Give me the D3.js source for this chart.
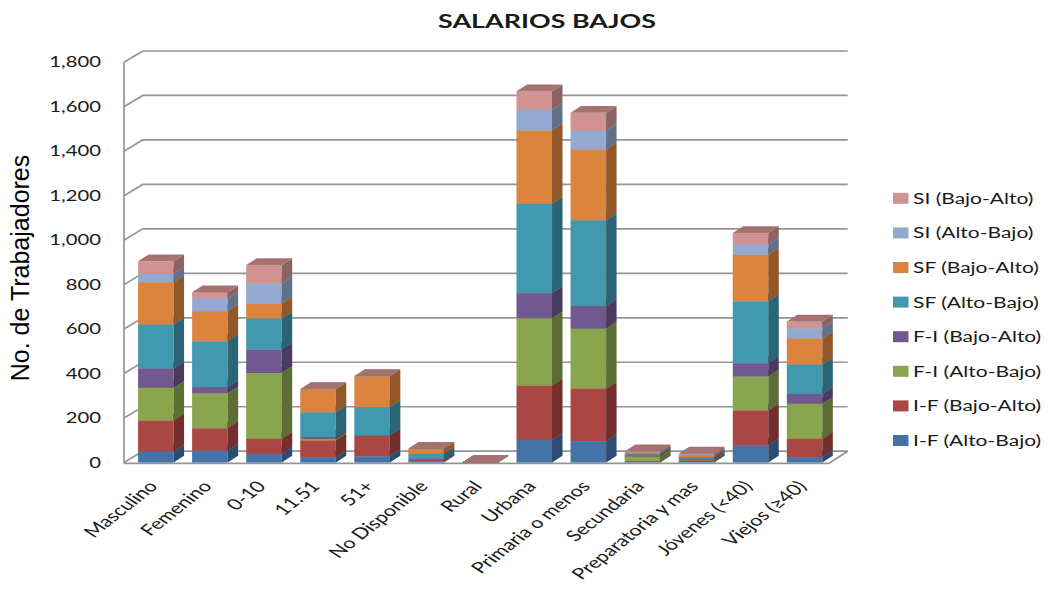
<!DOCTYPE html>
<html>
<head>
<meta charset="utf-8">
<script src="https://cdn.jsdelivr.net/npm/d3@7"></script>
<style>
  html, body { margin: 0; padding: 0; background: #ffffff; }
  svg { display: block; }
</style>
</head>
<body>
<div id="chart"></div>
<script>
// ---------------- DATA ----------------
const categories = ["Masculino", "Femenino", "0-10", "11.51", "51+", "No Disponible", "Rural",
  "Urbana", "Primaria o menos", "Secundaria", "Preparatoria y mas", "Jóvenes (<40)", "Viejos (≥40)"];

const seriesNames = ["I-F (Alto-Bajo)", "I-F (Bajo-Alto)", "F-I (Alto-Bajo)", "F-I (Bajo-Alto)",
  "SF (Alto-Bajo)", "SF (Bajo-Alto)", "SI (Alto-Bajo)", "SI (Bajo-Alto)"];

const IF_AltoBajo = [50, 54, 39, 24, 28, 6, 0, 102, 96, 2, 3, 77, 24];
const IF_BajoAlto = [139, 100, 68, 75, 93, 8, 0, 244, 236, 3, 6, 157, 83];
const FI_AltoBajo = [147, 157, 295, 8, 0, 0, 0, 303, 270, 22, 5, 153, 157];
const FI_BajoAlto = [86, 28, 107, 7, 0, 0, 0, 113, 102, 4, 3, 60, 45];
const SF_AltoBajo = [199, 206, 139, 112, 128, 25, 0, 402, 386, 6, 8, 278, 131];
const SF_BajoAlto = [190, 136, 67, 103, 139, 23, 0, 330, 318, 5, 6, 210, 119];
const SI_AltoBajo = [38, 58, 90, 0, 0, 0, 0, 93, 84, 4, 4, 46, 45];
const SI_BajoAlto = [56, 27, 83, 0, 0, 0, 0, 83, 81, 4, 5, 51, 30];

const yTicks = [0, 200, 400, 600, 800, 1000, 1200, 1400, 1600, 1800];
const yTickLabels = ["0", "200", "400", "600", "800", "1,000", "1,200", "1,400", "1,600", "1,800"];

const seriesValues = [IF_AltoBajo, IF_BajoAlto, FI_AltoBajo, FI_BajoAlto,
  SF_AltoBajo, SF_BajoAlto, SI_AltoBajo, SI_BajoAlto];

const frontColors = ["#4572A7", "#AA4643", "#89A54E", "#71588F", "#4198AF", "#DB843D", "#93A9CF", "#D19392"];
const sideColors  = ["#2E4C70", "#722F2D", "#5C6E34", "#4B3B60", "#2B6575", "#935829", "#62718A", "#8C6262"];
const topColors   = ["#3A5F8B", "#8E3B38", "#728A41", "#5E4977", "#367F92", "#B66E33", "#7A8DAD", "#A6726F"];

// ---------------- LAYOUT ----------------
const W = 1049, H = 594;
const SX = 1.4;                     // horizontal stretch of the text
const FONT = "Lato, 'Open Sans', sans-serif";
const wallLeft = 124, wallRight = 829;
const DX = 18.7, DY = -11.3;        // wall depth offset
const BDX = 10.5, BDY = -6.8;       // bar depth offset

const svg = d3.select("#chart").append("svg")
  .attr("width", W).attr("height", H)
  .style("background", "#ffffff");

const y = d3.scaleLinear().domain([0, 1800]).range([462.5, 62.3]);
const x = d3.scaleBand().domain(categories)
  .range([128.8, 831.6]).paddingInner(0.343).paddingOuter(0.1715);

// stacked data
const table = categories.map((c, i) => {
  const o = { cat: c };
  seriesNames.forEach((s, k) => { o[s] = seriesValues[k][i]; });
  return o;
});
const stack = d3.stack().keys(seriesNames)(table);

// ---------------- WALLS & GRID ----------------
const grid = svg.append("g").attr("fill", "none").attr("stroke", "#959595").attr("stroke-width", 1.7);
grid.append("line").attr("x1", wallLeft).attr("x2", wallLeft)
  .attr("y1", y(1800)).attr("y2", y(0) + 0.8);
yTicks.forEach(t => {
  const yf = y(t);
  grid.append("polyline")
    .attr("points", `${wallLeft},${yf} ${wallLeft + DX},${yf + DY} ${wallRight + DX},${yf + DY}`);
});
grid.append("polyline")
  .attr("points", `${wallLeft},${y(0) + 0.8} ${wallRight},${y(0) + 0.8} ${wallRight + DX},${y(0) + DY}`);

// ---------------- BARS ----------------
const bars = svg.append("g");
categories.forEach((c, i) => {
  const x0 = x(c), bw = x.bandwidth();
  stack.forEach((layer, k) => {
    const d = layer[i];
    const yb = y(d[0]), yt = y(d[1]);
    const g = bars.append("g");
    if (yb - yt > 0) {
      g.append("rect").attr("x", x0).attr("y", yt).attr("width", bw).attr("height", yb - yt)
        .attr("fill", frontColors[k]);
      g.append("polygon")
        .attr("points", `${x0 + bw},${yt} ${x0 + bw + BDX},${yt + BDY} ${x0 + bw + BDX},${yb + BDY} ${x0 + bw},${yb}`)
        .attr("fill", sideColors[k]);
    }
    g.append("polygon")
      .attr("points", `${x0},${yt} ${x0 + BDX},${yt + BDY} ${x0 + bw + BDX},${yt + BDY} ${x0 + bw},${yt}`)
      .attr("fill", topColors[k]);
  });
});

// ---------------- TEXT ----------------
function sText(px, py, str, anchor, size, weight, rot) {
  return svg.append("text")
    .attr("transform", `translate(${px},${py}) scale(${SX},1)` + (rot ? ` rotate(${rot})` : ""))
    .attr("text-anchor", anchor)
    .attr("font-family", FONT)
    .attr("font-size", size)
    .attr("font-weight", weight || "normal")
    .attr("fill", "#1a1a1a")
    .text(str);
}

// title
sText(547, 28, "SALARIOS BAJOS", "middle", 19.2, "bold");

// y tick labels
yTicks.forEach((t, i) => {
  sText(101, y(t) + 5, yTickLabels[i], "end", 14.5);
});

// y axis title
svg.append("text")
  .attr("transform", `translate(29,268) rotate(-90)`)
  .attr("text-anchor", "middle")
  .attr("font-family", "Arial, 'Liberation Sans', sans-serif")
  .attr("font-size", 25)
  .attr("fill", "#000")
  .text("No. de Trabajadores");

// category labels
categories.forEach(c => {
  sText(x(c) + x.bandwidth() / 2 + 3, 487, c, "end", 15.5, "normal", -48);
});

// legend
const legendRows = d3.range(seriesNames.length).reverse();
legendRows.forEach((k, r) => {
  const cy = 198.3 + r * 34.6;
  svg.append("rect").attr("x", 893).attr("y", cy - 5.5).attr("width", 15.5).attr("height", 11)
    .attr("fill", frontColors[k]);
  sText(913, cy + 5.5, seriesNames[k], "start", 15);
});
</script>
</body>
</html>
